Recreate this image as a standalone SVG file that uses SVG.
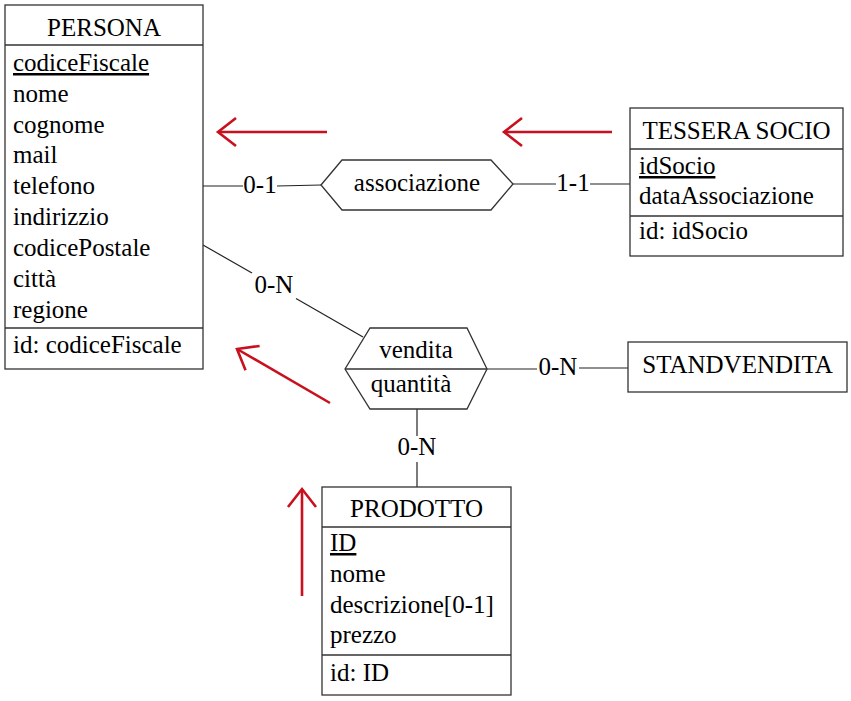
<svg xmlns="http://www.w3.org/2000/svg" width="851" height="701" viewBox="0 0 851 701">
<style>
text{font-family:"Liberation Serif","Times New Roman",serif;font-size:25px;fill:#000}
.c{text-anchor:middle}
.u{text-decoration:underline}
.box{fill:#fff;stroke:#333;stroke-width:1.3}
.div{stroke:#333;stroke-width:1.3}
.ln{stroke:#222;stroke-width:1.2;fill:none}
.red{stroke:#c8101e;stroke-width:2.6;fill:none;marker-end:url(#chev)}
</style>
<defs>
<marker id="chev" markerUnits="userSpaceOnUse" orient="auto" refX="0" refY="0" markerWidth="1" markerHeight="1" overflow="visible">
<path d="M-18,-14 L0,0 L-18,14" fill="none" stroke="#c8101e" stroke-width="2.6"/>
</marker>
</defs>
<rect width="851" height="701" fill="#fff"/>

<g id="connectors">
<line class="ln" x1="203" y1="186" x2="243" y2="186"/>
<line class="ln" x1="277" y1="186" x2="321" y2="185"/>
<text class="c" x="260" y="193">0-1</text>
<line class="ln" x1="513" y1="184" x2="556" y2="184"/>
<line class="ln" x1="590" y1="184" x2="630" y2="184"/>
<text class="c" x="573" y="191">1-1</text>
<line class="ln" x1="203" y1="245" x2="252" y2="273"/>
<line class="ln" x1="296" y1="298.5" x2="363" y2="337"/>
<text class="c" x="274" y="293">0-N</text>
<line class="ln" x1="487" y1="369" x2="537" y2="369"/>
<line class="ln" x1="579" y1="368" x2="628" y2="368"/>
<text class="c" x="558" y="375">0-N</text>
<line class="ln" x1="417" y1="409" x2="417" y2="436"/>
<line class="ln" x1="417" y1="462" x2="417" y2="487"/>
<text class="c" x="417" y="455">0-N</text>
</g>

<g id="persona">
<rect class="box" x="5" y="5" width="198" height="364"/>
<line class="div" x1="5" y1="45" x2="203" y2="45"/>
<line class="div" x1="5" y1="328" x2="203" y2="328"/>
<text class="c" x="104" y="36">PERSONA</text>
<text class="u" x="13" y="71">codiceFiscale</text>
<text x="13" y="102">nome</text>
<text x="13" y="133">cognome</text>
<text x="13" y="163">mail</text>
<text x="13" y="194">telefono</text>
<text x="13" y="225">indirizzio</text>
<text x="13" y="256">codicePostale</text>
<text x="13" y="287">città</text>
<text x="13" y="318">regione</text>
<text x="13" y="353">id: codiceFiscale</text>
</g>

<g id="tessera-socio">
<rect class="box" x="630" y="108" width="213" height="148"/>
<line class="div" x1="630" y1="149" x2="843" y2="149"/>
<line class="div" x1="630" y1="216" x2="843" y2="216"/>
<text class="c" x="736.5" y="139">TESSERA SOCIO</text>
<text class="u" x="639" y="174">idSocio</text>
<text x="639" y="204">dataAssociazione</text>
<text x="639" y="239">id: idSocio</text>
</g>

<g id="associazione">
<polygon class="box" points="321,185 342,160 491,160 513,184 491,210 342,210"/>
<text class="c" x="417" y="191">associazione</text>
</g>

<g id="vendita">
<polygon class="box" points="345,369 370,328 467,328 487,369 467,409 370,409"/>
<line class="div" x1="345" y1="369" x2="487" y2="369"/>
<text class="c" x="416" y="358">vendita</text>
<text class="c" x="411" y="392">quantità</text>
</g>

<g id="standvendita">
<rect class="box" x="628" y="342" width="219" height="50"/>
<text class="c" x="737.5" y="373">STANDVENDITA</text>
</g>

<g id="prodotto">
<rect class="box" x="322" y="487" width="189" height="208"/>
<line class="div" x1="322" y1="527" x2="511" y2="527"/>
<line class="div" x1="322" y1="655" x2="511" y2="655"/>
<text class="c" x="416.5" y="517">PRODOTTO</text>
<text class="u" x="330" y="551">ID</text>
<text x="330" y="582">nome</text>
<text x="330" y="613">descrizione[0-1]</text>
<text x="330" y="643">prezzo</text>
<text x="330" y="681">id: ID</text>
</g>

<g id="annotations">
<path class="red" d="M327,132 L218,132"/>
<path class="red" d="M612,132 L504,132"/>
<path class="red" d="M330,403 L237,349"/>
<path class="red" d="M302,596 L302,489"/>
</g>
</svg>
